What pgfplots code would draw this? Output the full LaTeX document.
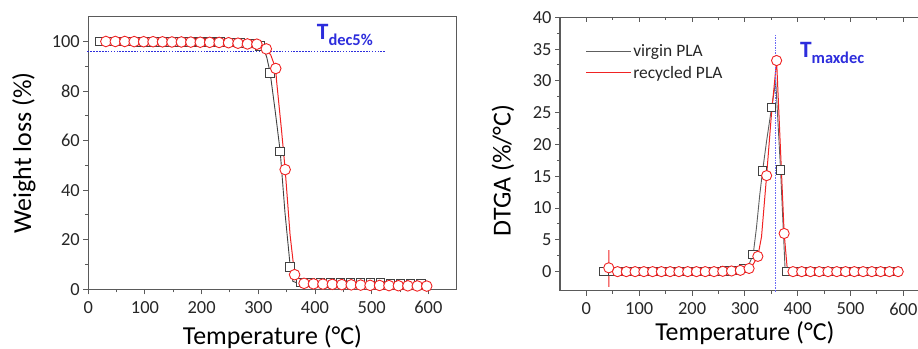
\documentclass[border=0pt]{standalone}
\usepackage{pgfplots}
\pgfplotsset{compat=1.18}
\usepackage{fontspec}
\setmainfont{Carlito}
\usetikzlibrary{calc,decorations.markings}
\definecolor{axgray}{RGB}{90,90,90}
\definecolor{blk}{RGB}{65,65,65}
\definecolor{rd}{RGB}{240,35,35}
\definecolor{tblue}{RGB}{45,45,220}
\definecolor{lblue}{RGB}{105,105,245}
\pgfplotsset{
  mybase/.style={
    scale only axis,
    axis line style={draw=axgray, line width=1.3bp},
    major tick style={draw=axgray, line width=1bp},
    minor tick style={draw=axgray, line width=1bp},
    major tick length=5bp, minor tick length=3bp,
    tick align=outside,
    xticklabel style={font=\fontsize{18.5}{20}\selectfont, text=black!85, yshift=-3.5bp},
    yticklabel style={font=\fontsize{18.5}{20}\selectfont, text=black!85},
    label style={font=\fontsize{26}{28}\selectfont, text=black},
    clip=false,
    /pgf/number format/assume math mode=true,
  },
}
\tikzset{
  dotline/.style 2 args={draw=none, postaction={decorate}, decoration={markings,
    mark=between positions 0 and 1 step #2 with {\fill[#1] (-0.8bp,-0.8bp) rectangle (0.8bp,0.8bp);}}},
}
\begin{document}
\begin{tikzpicture}
\useasboundingbox (0,0) rectangle (918bp,349bp);
% ---------------- left: TGA ----------------
\begin{axis}[mybase,
  at={(88.3bp,59.7bp)}, anchor=south west,
  width=368.4bp, height=272.6bp,
  xmin=0, xmax=650, ymin=0, ymax=110,
  xtick={0,100,...,600}, ytick={0,20,...,100},
  minor x tick num=1, minor y tick num=1,
  xtick pos=left, ytick pos=left,
  xlabel={Temperature (°C)}, ylabel={Weight loss (\%)},
  xlabel style={at={($(axis description cs:0.5,0)+(0,-55bp)$)}, anchor=base},
  ylabel style={at={($(axis description cs:0,0.5)+(-57.3bp,0)$)}, anchor=base},
]
\addplot[color=blk, line width=0.9bp] coordinates {
(20,100) (60,99.95) (100,99.9) (150,99.8) (200,99.75) (250,99.65) (280,99.4) (295,98.9) (303.2,98.3)
(310,96.8) (315,93.5) (320.9,87.3) (330,71.5) (338.6,55.6) (347,31) (356.3,9.1) (361,3.2) (366,2.8)
(374,2.8) (400,2.75) (450,2.6) (500,2.5) (550,2.4) (600,2.3)};
\addplot[only marks, mark=square*, mark size=4.3bp, mark options={fill=white, draw=blk, line width=0.9bp}] coordinates {
(20,100) (37.7,100) (55.4,99.95) (73.1,99.95) (90.8,99.9) (108.5,99.9) (126.2,99.85) (143.9,99.8)
(161.6,99.8) (179.3,99.75) (197,99.75) (214.7,99.7) (232.4,99.7) (250.1,99.65) (267.8,99.5) (285.5,99.2)
(303.2,98.3) (320.9,87.3) (338.6,55.6) (356.3,9.1) (374,2.8) (391.7,2.78) (409.4,2.72) (427.1,2.68)
(444.8,2.62) (462.5,2.58) (480.2,2.54) (497.9,2.5) (515.6,2.46) (533.3,2.42) (551,2.38) (568.7,2.34) (586.4,2.3)};
\addplot[color=rd, line width=1bp] coordinates {
(31,100) (100,99.9) (150,99.8) (200,99.7) (250,99.5) (280.75,99.0) (297.4,98.9) (305,98.3) (314.05,97.0)
(322,94.5) (326,92) (330.7,89.1) (332,84.5) (341,64) (347.35,48.3) (356,22) (364,5.9) (370,3.0)
(380.65,2.4) (400,2.2) (450,1.9) (500,1.6) (550,1.45) (597.1,1.3)};
\addplot[only marks, mark=*, mark size=5.3bp, mark options={fill=white, draw=rd, line width=0.9bp}] coordinates {
(31,100) (47.65,100) (64.3,100) (80.95,99.95) (97.6,99.9) (114.25,99.9) (130.9,99.85) (147.55,99.8)
(164.2,99.8) (180.85,99.75) (197.5,99.7) (214.15,99.65) (230.8,99.6) (247.45,99.5) (264.1,99.3)
(280.75,99.0) (297.4,98.9) (314.05,97.0) (330.7,89.1) (347.35,48.3) (364,5.9) (380.65,2.4) (397.3,2.2)
(413.95,2.1) (430.6,2.0) (447.25,1.9) (463.9,1.8) (480.55,1.7) (497.2,1.6) (513.85,1.55) (530.5,1.5)
(547.15,1.45) (563.8,1.4) (580.45,1.35) (597.1,1.3)};
\addplot[dotline={tblue}{2.9bp}] coordinates {(0,96) (524,96)};
\node[anchor=base west, inner sep=0, text=tblue, font=\bfseries] at (axis cs:403,100.7)
  {\fontsize{23.5}{24}\selectfont T\fontsize{16.5}{17}\selectfont\raisebox{-5.5bp}{dec5\%}};
\end{axis}
% ---------------- right: DTGA ----------------
\begin{axis}[mybase,
  at={(560bp,58.3bp)}, anchor=south west,
  width=369.8bp, height=273.4bp,
  xmin=-50, xmax=650, ymin=-3, ymax=40,
  xtick={0,100,...,600}, ytick={0,5,...,40},
  minor x tick num=1, minor y tick num=1,
  xtick pos=left, ytick pos=left,
  xlabel={Temperature (°C)}, ylabel={DTGA (\%/°C)},
  xlabel style={at={($(axis description cs:0.5,0)+(0,-49.3bp)$)}, anchor=base},
  ylabel style={at={($(axis description cs:0,0.44)+(-49.5bp,0)$)}, anchor=base},
  legend style={at={(axis cs:-2,36.0)}, anchor=north west, draw=none, fill=none,
    font=\fontsize{17.5}{19}\selectfont, inner sep=0pt, row sep=5bp,
    nodes={inner sep=1.5bp, text=black!85}},
  legend cell align=left,
  legend image code/.code={\draw[#1, line width=1.2bp] (0bp,0bp) -- (45bp,0bp);},
]
\addplot[color=blk!85, line width=0.9bp] coordinates {
(32.8,0) (100,0.05) (200,0.1) (280,0.2) (298,0.5) (308,1.2) (315.7,2.7) (322,7) (328,12) (333.4,15.8)
(341,20.5) (350.5,25.8) (358.4,29.9) (367.5,16) (376,0.5) (379,0) (600,0)};
\addlegendentry{virgin PLA}
\addplot[only marks, forget plot, mark=square*, mark size=4.3bp, mark options={fill=white, draw=blk, line width=0.9bp}] coordinates {
(32.8,0) (50.5,0) (68.2,0) (85.8,0) (103.5,0) (121.2,0) (138.9,0) (156.6,0) (174.2,0) (191.9,0)
(209.6,0) (227.3,0) (245,0) (262.6,0.1) (280.3,0.2) (298,0.5) (315.7,2.7) (333.4,15.8) (350.5,25.8)
(367.5,16) (379,0) (396.5,0) (414,0) (431.5,0) (449,0) (466.5,0) (484,0) (501.5,0) (519,0)
(536.5,0) (554,0) (571.5,0) (589,0)};
\addplot[color=rd, line width=1bp] coordinates {
(42.3,3.4) (42.3,-2.4) (42.8,0.6) (50,0.1) (100,0.05) (200,0.05) (291.3,0.2) (307.9,0.5) (316,1.2)
(324.5,2.4) (331.5,5.5) (337.8,11.8) (341.1,15.1) (350,24.5) (360,33.2) (374.3,6.0) (380,0.6)
(391,0) (600,0)};
\addlegendentry{recycled PLA}
\addplot[only marks, forget plot, mark=*, mark size=5.1bp, mark options={fill=white, draw=rd, line width=0.9bp}] coordinates {
(42.3,0.6) (58.9,0) (75.5,0) (92.1,0) (108.7,0) (125.3,0) (141.9,0) (158.5,0) (175.1,0) (191.7,0)
(208.3,0) (224.9,0) (241.5,0) (258.1,0.05) (274.7,0.1) (291.3,0.2) (307.9,0.5) (324.5,2.4) (341.1,15.1)
(360,33.2) (374.3,6.0) (391,0) (407.5,0) (424.1,0) (440.7,0) (457.3,0) (473.9,0) (490.5,0) (507.1,0)
(523.7,0) (540.3,0) (556.9,0) (573.5,0) (590.1,0)};
\addplot[dotline={lblue}{2.5bp}, forget plot] coordinates {(358,-3) (358,37.4)};
\node[anchor=base west, inner sep=0, text=tblue, font=\bfseries] at (axis cs:404,33.7)
  {\fontsize{23.5}{24}\selectfont T\fontsize{16.5}{17}\selectfont\raisebox{-6bp}{maxdec}};
\end{axis}
% top inward ticks for right axis
\begin{axis}[mybase,
  at={(560bp,58.3bp)}, anchor=south west,
  width=369.8bp, height=273.4bp,
  xmin=-50, xmax=650, ymin=-3, ymax=40,
  xtick={0,100,...,600}, minor x tick num=1,
  axis x line*=top, hide y axis, tick align=inside,
  xticklabels={},
]
\addplot[draw=none] coordinates {(0,0)};
\end{axis}
\end{tikzpicture}
\end{document}
